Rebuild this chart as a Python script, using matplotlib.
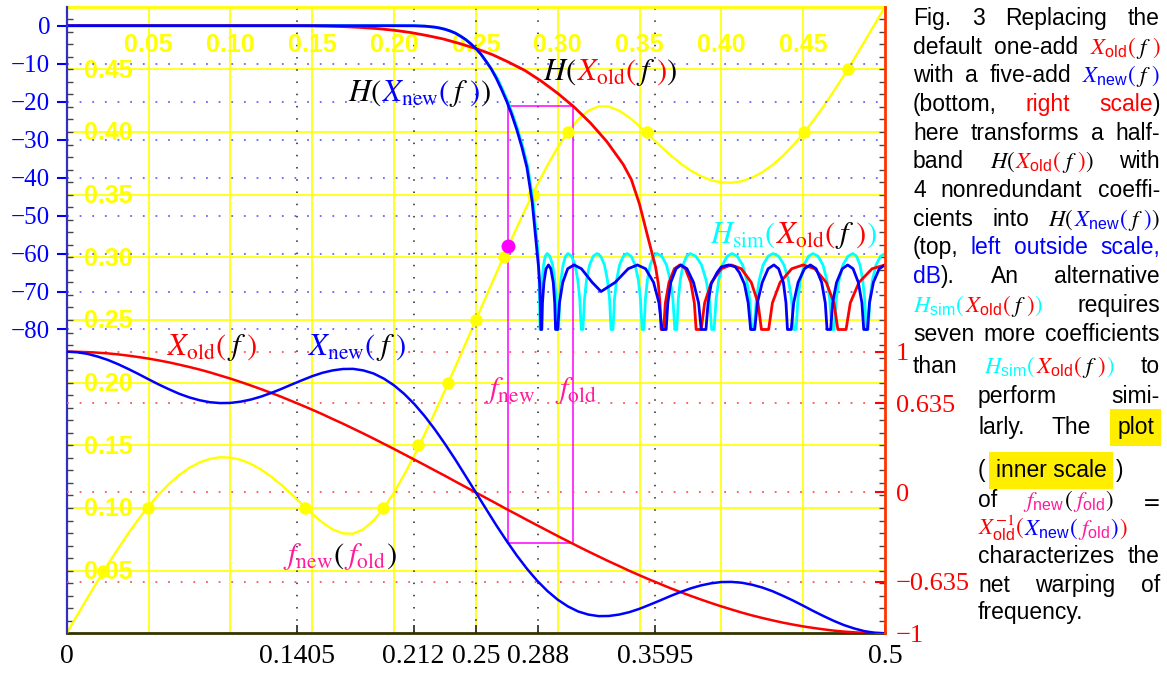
import numpy as np
import matplotlib
matplotlib.use("Agg")
import matplotlib.pyplot as plt
from matplotlib.ticker import MultipleLocator

plt.rcParams['mathtext.fontset'] = 'stix'
plt.rcParams['font.family'] = 'Liberation Serif'

# ---------------- data ----------------
f_grid = np.linspace(0, 0.5, 81)

x_old = [1.000, 0.999, 0.997, 0.993, 0.988, 0.981, 0.972, 0.962, 0.951, 0.938,
         0.924, 0.908, 0.891, 0.873, 0.853, 0.831, 0.809, 0.785, 0.760, 0.734,
         0.707, 0.679, 0.649, 0.619, 0.588, 0.556, 0.522, 0.489, 0.454, 0.419,
         0.383, 0.346, 0.309, 0.271, 0.233, 0.195, 0.156, 0.118, 0.078, 0.039, 0.0,
         -0.039, -0.078, -0.118, -0.156, -0.195, -0.233, -0.271, -0.309, -0.346, -0.383,
         -0.419, -0.454, -0.489, -0.522, -0.556, -0.588, -0.619, -0.649, -0.679, -0.707,
         -0.734, -0.760, -0.785, -0.809, -0.831, -0.853, -0.873, -0.891, -0.908, -0.924,
         -0.938, -0.951, -0.962, -0.972, -0.981, -0.988, -0.993, -0.997, -0.999, -1.000]

x_new = [1.000, 0.996, 0.985, 0.966, 0.942, 0.912, 0.878, 0.842, 0.804, 0.767,
         0.733, 0.701, 0.675, 0.655, 0.641, 0.635, 0.636, 0.645, 0.660, 0.681,
         0.707, 0.736, 0.767, 0.797, 0.826, 0.850, 0.867, 0.877, 0.878, 0.867,
         0.845, 0.809, 0.761, 0.700, 0.627, 0.542, 0.447, 0.343, 0.233, 0.117, 0.0,
         -0.117, -0.233, -0.343, -0.447, -0.542, -0.627, -0.700, -0.761, -0.809, -0.845,
         -0.867, -0.878, -0.877, -0.867, -0.850, -0.826, -0.797, -0.767, -0.736, -0.707,
         -0.681, -0.660, -0.645, -0.636, -0.635, -0.641, -0.655, -0.675, -0.701, -0.733,
         -0.767, -0.804, -0.842, -0.878, -0.912, -0.942, -0.966, -0.985, -0.996, -1.000]

f_warp = [0, 0.0140, 0.0278, 0.0414, 0.0546, 0.0673, 0.0795, 0.0908, 0.1013, 0.1108,
          0.1192, 0.1263, 0.1321, 0.1364, 0.1392, 0.1405, 0.1402, 0.1385, 0.1352, 0.1307,
          0.125, 0.1183, 0.1109, 0.1031, 0.0954, 0.0884, 0.0829, 0.0797, 0.0795, 0.0830,
          0.0900, 0.0999, 0.1123, 0.1266, 0.1422, 0.1589, 0.1763, 0.1943, 0.2127, 0.2313, 0.25,
          0.2687, 0.2873, 0.3057, 0.3237, 0.3411, 0.3578, 0.3734, 0.3877, 0.4001, 0.4100,
          0.4170, 0.4205, 0.4203, 0.4171, 0.4116, 0.4046, 0.3969, 0.3891, 0.3817, 0.375,
          0.3693, 0.3648, 0.3615, 0.3598, 0.3595, 0.3608, 0.3636, 0.3679, 0.3737, 0.3808,
          0.3892, 0.3987, 0.4092, 0.4205, 0.4327, 0.4454, 0.4586, 0.4722, 0.4860, 0.5]

dot_f = [0.0224, 0.0495, 0.1456, 0.1935, 0.2148, 0.2328, 0.25, 0.2672, 0.2852, 0.3065, 0.3544, 0.4505, 0.4776]
dot_v = [0.05, 0.10, 0.10, 0.10, 0.15, 0.20, 0.25, 0.30, 0.35, 0.40, 0.40, 0.40, 0.45]

h_old_f = [0, 0.14, 0.15, 0.16, 0.17, 0.18, 0.19, 0.20, 0.21, 0.22, 0.23, 0.24, 0.25,
           0.26, 0.27, 0.28, 0.29, 0.30, 0.31, 0.32, 0.33, 0.34, 0.345, 0.35, 0.355,
           0.3598, 0.3615, 0.3625, 0.3632,
           0.3647, 0.3658, 0.3680, 0.3713, 0.3747, 0.3780, 0.3813, 0.3835, 0.3846,
           0.3877, 0.3898, 0.3939, 0.4000, 0.4061, 0.4122, 0.4183, 0.4224, 0.4245,
           0.4289, 0.4312, 0.4359, 0.4430, 0.4500, 0.4571, 0.4641, 0.4688, 0.4712,
           0.4762, 0.4788, 0.4841, 0.4921, 0.5]
h_old_db = [0, -0.01, -0.04, -0.13, -0.26, -0.47, -0.77, -1.2, -1.79, -2.58, -3.49, -4.69, -6.02,
            -7.6, -9.6, -11.8, -14.6, -17.8, -21.4, -25.6, -30.5, -36.5, -40.5, -47, -55.5,
            -63.5, -68, -73, -80,
            -80, -73, -67.6, -64, -63, -64, -67.6, -73, -80,
            -80, -73, -67.6, -64, -63, -64, -67.6, -73, -80,
            -80, -73, -67.6, -64, -63, -64, -67.6, -73, -80,
            -80, -73, -67.6, -64, -63]

h_new_f = [0, 0.20, 0.2125, 0.2188, 0.225, 0.2281, 0.2312, 0.2344, 0.2375, 0.2406, 0.2438,
           0.2469, 0.25, 0.2531, 0.2562, 0.2594, 0.2625, 0.2656, 0.2688, 0.2719, 0.275,
           0.2781, 0.2812, 0.2844, 0.2875, 0.2883, 0.2890, 0.2894, 0.2897,
           0.2903, 0.2907, 0.2916, 0.2929, 0.2944, 0.2958, 0.2973, 0.2982, 0.2987,
           0.3000, 0.3011, 0.3031, 0.3061, 0.3100, 0.3145, 0.3211, 0.3265, 0.3351, 0.3431,
           0.3487, 0.3537, 0.3586, 0.3619, 0.3637,
           0.3663, 0.3673, 0.3691, 0.3723, 0.3753, 0.3790, 0.3830, 0.3861, 0.3877,
           0.3906, 0.3919, 0.3938, 0.3974, 0.4000, 0.4045, 0.4085, 0.4110, 0.4141, 0.4164, 0.4179,
           0.4204, 0.4220, 0.4250, 0.4286, 0.4321, 0.4350, 0.4379, 0.4395, 0.4404,
           0.4427, 0.4442, 0.4469, 0.4508, 0.4544, 0.4579, 0.4613, 0.4635, 0.4646,
           0.4668, 0.4680, 0.4704, 0.4739, 0.4772, 0.4805, 0.4837, 0.4859, 0.4870,
           0.4893, 0.4905, 0.4929, 0.4965, 0.5]
h_new_db = [0, 0, -0.02, -0.12, -0.39, -0.63, -0.95, -1.41, -1.96, -2.76, -3.65,
            -4.77, -6.02, -7.49, -9.35, -11.36, -13.84, -16.68, -19.85, -23.37, -27.35,
            -31.94, -37.3, -46.3, -60.0, -63.5, -68, -73, -80,
            -80, -73, -67.6, -64, -63, -64, -67.6, -73, -80,
            -80, -73, -67.6, -64, -63, -64, -67.6, -70, -67.6, -64,
            -63, -64, -67.6, -73, -80,
            -80, -73, -67.6, -64, -63, -64, -67.6, -73, -80,
            -80, -73, -68, -65, -63.5, -63, -63.5, -65, -68, -73, -80,
            -80, -73, -67.6, -64, -63, -64, -67.6, -73, -80,
            -80, -73, -67.6, -64, -63, -64, -67.6, -73, -80,
            -80, -73, -67.6, -64, -63, -64, -67.6, -73, -80,
            -80, -73, -67.6, -64, -63]

h_sim_f = [0, 0.20, 0.2125, 0.2188, 0.225, 0.2281, 0.2312, 0.2344, 0.2375, 0.2406, 0.2438,
           0.2469, 0.25, 0.2531, 0.2562, 0.2594, 0.2631, 0.2662, 0.2694, 0.2725, 0.2756,
           0.2787, 0.2818, 0.2850, 0.2881, 0.2887, 0.2892,
           0.2895, 0.2899, 0.2905, 0.2914, 0.2924, 0.2935, 0.2952, 0.2969, 0.2982, 0.2991, 0.2998,
           0.3006, 0.3012, 0.3020, 0.3033, 0.3048, 0.3063, 0.3085, 0.3106, 0.3123, 0.3135, 0.3144,
           0.3154, 0.3164, 0.3176, 0.3195, 0.3217, 0.3240, 0.3263, 0.3286, 0.3304, 0.3317, 0.3326,
           0.3338, 0.3347, 0.3360, 0.3378, 0.3401, 0.3424, 0.3449, 0.3473, 0.3493, 0.3506, 0.3516,
           0.3527, 0.3536, 0.3548, 0.3565, 0.3586, 0.3607, 0.3636, 0.3665, 0.3688, 0.3704, 0.3716,
           0.3728, 0.3737, 0.3749, 0.3766, 0.3788, 0.3809, 0.3844, 0.3879, 0.3907, 0.3927, 0.3941,
           0.3956, 0.3968, 0.3984, 0.4007, 0.4036, 0.4065, 0.4097, 0.4130, 0.4155, 0.4173, 0.4186,
           0.4201, 0.4214, 0.4231, 0.4255, 0.4286, 0.4316, 0.4350, 0.4383, 0.4410, 0.4429, 0.4442,
           0.4457, 0.4468, 0.4483, 0.4505, 0.4533, 0.4560, 0.4591, 0.4621, 0.4645, 0.4662, 0.4675,
           0.4689, 0.4702, 0.4719, 0.4743, 0.4774, 0.4804, 0.4826, 0.4847, 0.4864, 0.4876, 0.4885,
           0.4897, 0.4908, 0.4923, 0.4945, 0.4973, 0.5]
h_sim_db = [0, 0, -0.02, -0.12, -0.39, -0.63, -0.95, -1.41, -1.96, -2.76, -3.65,
            -4.77, -6.02, -7.49, -9.35, -11.36, -13.84, -16.68, -19.85, -23.37, -27.35,
            -31.94, -37.3, -46.3, -60.0, -68, -80,
            -80, -72, -67, -63, -60.7, -60, -60.7, -63, -67, -72, -80,
            -80, -72, -67, -63, -60.7, -60, -60.7, -63, -67, -72, -80,
            -80, -72, -67, -63, -60.7, -60, -60.7, -63, -67, -72, -80,
            -80, -72, -67, -63, -60.7, -60, -60.7, -63, -67, -72, -80,
            -80, -72, -67, -63, -60.7, -60, -60.7, -63, -67, -72, -80,
            -80, -72, -67, -63, -60.7, -60, -60.7, -63, -67, -72, -80,
            -80, -72, -67, -63, -60.7, -60, -60.7, -63, -67, -72, -80,
            -80, -72, -67, -63, -60.7, -60, -60.7, -63, -67, -72, -80,
            -80, -72, -67, -63, -60.7, -60, -60.7, -63, -67, -72, -80,
            -80, -72, -67, -63, -60.7, -60, -60.7, -63, -67, -72, -80,
            -80, -72, -67, -63, -60.7, -60]

box_f = [0.2698, 0.3093]     # f_new, f_old
box_db = -21.1
box_x = -0.361

inner_ticks = [0.05, 0.10, 0.15, 0.20, 0.25, 0.30, 0.35, 0.40, 0.45]
db_ticks = [0, -10, -20, -30, -40, -50, -60, -70, -80]
x_ticks = [1, 0.635, 0, -0.635, -1]
x_tick_labels = ['1', '0.635', '0', '\u22120.635', '\u22121']
f_ticks = [0, 0.1405, 0.212, 0.25, 0.288, 0.3595, 0.5]
f_tick_labels = ['0', '0.1405', '0.212', '0.25', '0.288', '0.3595', '0.5']

# ---------------- figure ----------------
W, H = 1167, 675
fig = plt.figure(figsize=(W / 100, H / 100), dpi=100)
L, R, T, B = 66.7, 885, 6.7, 633.3
ax = fig.add_axes([L / W, 1 - B / H, (R - L) / W, (B - T) / H])
adb = ax.twinx()
axx = ax.twinx()

ax.set_xlim(0, 0.5)
ax.set_ylim(0, 0.5)
adb.set_ylim(-160, 5)
axx.set_ylim(-1, 3.45)

YEL = '#ffff00'
RD, BL, CY, PK, K = '#ff0000', '#0000ff', '#00ffff', '#ff1a9c', 'black'

# inner (yellow) grid and dotted guides
for v in inner_ticks:
    ax.axvline(v, color=YEL, lw=1.2, zorder=0)
    ax.axhline(v, color=YEL, lw=1.2, zorder=0)
for v in f_ticks[1:-1]:
    ax.axvline(v, color='#222222', lw=1.1, ls=(0, (1, 7)), zorder=1)
for v in db_ticks[1:]:
    adb.axhline(v, color='#6666ff', lw=1.3, ls=(0, (1, 6)), zorder=1)
for v in x_ticks[:-1]:
    axx.axhline(v, color='#ff5555', lw=1.3, ls=(0, (1, 6)), zorder=1)

# spines / ticks
for s in ['left', 'right']:
    ax.spines[s].set_visible(False)
ax.spines['top'].set_color(YEL)
ax.spines['top'].set_linewidth(2)
ax.spines['bottom'].set_color('#333300')
ax.spines['bottom'].set_linewidth(2)
for a in (adb, axx):
    for s in a.spines.values():
        s.set_visible(False)
adb.spines['left'].set_visible(True)
adb.spines['left'].set_color('#3030c0')
adb.spines['left'].set_linewidth(1.6)
axx.spines['right'].set_visible(True)
axx.spines['right'].set_color('#ff3300')
axx.spines['right'].set_linewidth(2)

ax.set_xticks(f_ticks)
ax.set_xticklabels(f_tick_labels)
ax.tick_params(axis='x', direction='in', length=6, width=1.2, color='#222222', labelsize=20, pad=8)
ax.set_yticks([])
ax.yaxis.set_minor_locator(MultipleLocator(0.01))
ax.tick_params(axis='y', which='minor', left=True, right=True, direction='in', length=4,
               width=1, color='#444444')

adb.yaxis.tick_left()
adb.set_yticks(db_ticks)
adb.set_yticklabels(['0'] + ['\u2212%d' % -v for v in db_ticks[1:]])
adb.tick_params(axis='y', direction='out', length=7, width=1.5, colors=BL, labelsize=18, pad=5)

axx.set_yticks(x_ticks)
axx.set_yticklabels(x_tick_labels)
axx.tick_params(axis='y', direction='in', length=7, width=1.5, colors=RD, labelsize=19, pad=8)

# inner scale labels
for v in inner_ticks:
    ax.text(v, 0.4693, '%.2f' % v, ha='center', va='center', color=YEL, fontsize=18,
            fontweight='bold', family='Liberation Sans', zorder=2)
    ax.text(0.0252, v - 0.001, '%.2f' % v, ha='center', va='center', color=YEL, fontsize=18,
            fontweight='bold', family='Liberation Sans', zorder=2)

# curves
ax.plot(f_grid, f_warp, color=YEL, lw=1.7, zorder=3)
ax.plot(dot_f, dot_v, 'o', color=YEL, ms=9, mec='none', zorder=4)

to_in = ax.transData.inverted()
top = to_in.transform(adb.transData.transform((0, box_db)))[1]
bot = to_in.transform(axx.transData.transform((0, box_x)))[1]
ax.plot([box_f[0], box_f[0], box_f[1], box_f[1], box_f[0]], [bot, top, top, bot, bot],
        color='#ff00ff', lw=1.1, zorder=3)
ax.plot(box_f[0], box_f[1], 'o', color='#ff00ff', ms=10, mec='none', zorder=5)

adb.plot(h_sim_f, h_sim_db, color=CY, lw=2.0)
adb.plot(h_old_f, h_old_db, color=RD, lw=2.0)
adb.plot(h_new_f, h_new_db, color=BL, lw=2.0)
axx.plot(f_grid, x_old, color=RD, lw=1.8)
axx.plot(f_grid, x_new, color=BL, lw=1.8)

# ---------------- text helpers ----------------
renderer = fig.canvas.get_renderer()


def piece_texts(y, word, size, family):
    out = []
    for p in word:
        s, c = p[0], p[1]
        t = fig.text(0, 1 - y / H, s, color=c, fontsize=size, va='baseline', ha='left',
                     family=family)
        if len(p) > 2:
            t.set_bbox(dict(facecolor='#ffee00', edgecolor='none', pad=5))
        out.append((t, t.get_window_extent(renderer).width))
    return out


def place(x, y, word, size=22, family='Liberation Serif'):
    cx = x
    for t, w in piece_texts(y, word, size, family):
        t.set_x(cx / W)
        cx += w


def line(y, words, x0, x1=1160, justify=True, gap=None, size=16.5):
    ws = []
    for w in words:
        if isinstance(w, str):
            w = [(w, K)]
        ws.append(piece_texts(y, w, size, 'Liberation Sans'))
    total = sum(sum(w for _, w in pw) for pw in ws)
    if justify and len(ws) > 1:
        g = (x1 - x0 - total) / (len(ws) - 1)
    else:
        g = gap if gap is not None else 0.278 * size * 100 / 72
    cx = x0
    for pw in ws:
        for t, w in pw:
            t.set_x(cx / W)
            cx += w
        cx += g


# labels inside the plot
place(348, 101, [(r'$H($', K), (r'$X_{\rm new}($', BL), (r'$f$', K), (r'$)$', BL), (r'$)$', K)])
place(543, 80, [(r'$H($', K), (r'$X_{\rm old}($', RD), (r'$f$', K), (r'$)$', RD), (r'$)$', K)])
place(710, 243, [(r'$H_{\rm sim}($', CY), (r'$X_{\rm old}($', RD), (r'$f$', K), (r'$)$', RD),
                 (r'$)$', CY)])
place(167, 355, [(r'$X_{\rm old}($', RD), (r'$f$', K), (r'$)$', RD)])
place(308, 355, [(r'$X_{\rm new}($', BL), (r'$f$', K), (r'$)$', BL)])
place(485, 398, [(r'$f_{\rm new}$', PK)])
place(555, 398, [(r'$f_{\rm old}$', PK)])
place(283, 564, [(r'$f_{\rm new}$', PK), (r'$($', K), (r'$f_{\rm old}$', PK), (r'$)$', K)])

# caption paragraph
xold = [(r'$X_{\mathregular{old}}($', RD), (r'$f$', K), (r'$)$', RD)]
xnew = [(r'$X_{\mathregular{new}}($', BL), (r'$f$', K), (r'$)$', BL)]
h_old = [(r'$H($', K)] + xold + [(r'$)$', K)]
h_new = [(r'$H($', K)] + xnew + [(r'$)$', K)]
h_sim = [(r'$H_{\mathregular{sim}}($', CY)] + xold + [(r'$)$', CY)]

line(25, ['Fig.', '3', 'Replacing', 'the'], 913)
line(54, ['default', 'one-add', xold], 913)
line(82, ['with', 'a', 'five-add', xnew], 913)
line(111, ['(bottom,', [('right', RD)], [('scale', RD), (')', K)]], 913)
line(140, ['here', 'transforms', 'a', 'half-'], 913)
line(168, ['band', h_old, 'with'], 913)
line(197, ['4', 'nonredundant', 'coeffi-'], 913)
line(226, ['cients', 'into', h_new], 913)
line(254, ['(top,', [('left', BL)], [('outside', BL)], [('scale,', BL)]], 913)
line(283, [[('dB', BL), (').', K)], 'An', 'alternative'], 913)
line(312, [h_sim, 'requires'], 913)
line(341, ['seven', 'more', 'coefficients'], 913)
line(373, ['than', h_sim, 'to'], 913)
line(403, ['perform', 'simi-'], 978)
line(434, ['larly.', 'The', [('plot', K, 1)]], 978, 1154)
line(477, ['(', [('inner scale', K, 1)], ')'], 978, justify=False, gap=10)
line(507, ['of', [(r'$f_{\mathregular{new}}$', PK), (r'$($', K), (r'$f_{\mathregular{old}}$', PK),
                  (r'$)$', K)], r'$=$'], 978)
line(535, [[(r'$X_{\mathregular{old}}^{-1}($', RD), (r'$X_{\mathregular{new}}($', BL),
            (r'$f_{\mathregular{old}}$', PK), (r'$)$', BL), (r'$)$', RD)]], 978, justify=False)
line(563, ['characterizes', 'the'], 978)
line(592, ['net', 'warping', 'of'], 978)
line(619, ['frequency.'], 978, justify=False)

fig.savefig('out.png', dpi=100, facecolor='white')
